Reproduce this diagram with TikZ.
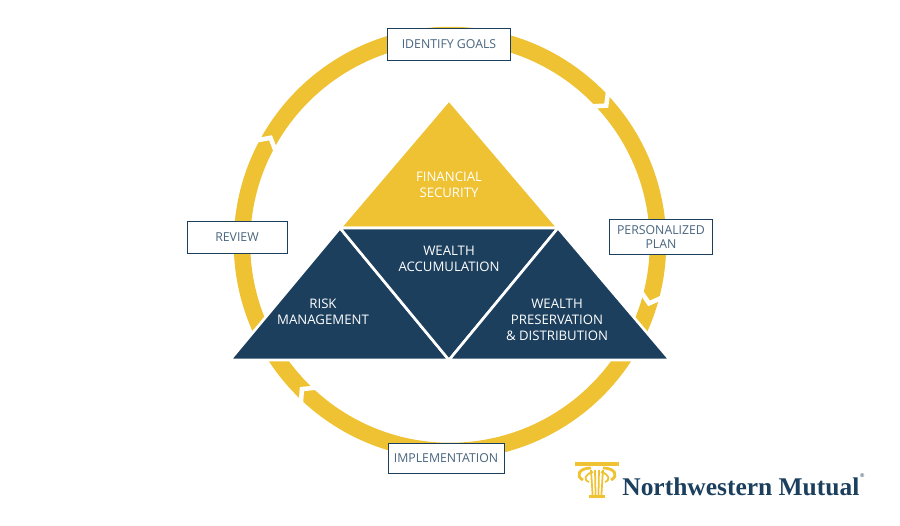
\documentclass[tikz,border=0pt]{standalone}
\usepackage{fontspec}
\setmainfont{Open Sans}
\newfontfamily\logofont{Liberation Serif}
\definecolor{ringyellow}{HTML}{EEC232}
\definecolor{navy}{HTML}{1C3F5E}
\tikzset{
  stagebox/.style={draw=navy, line width=0.5pt, fill=white, minimum width=#1, minimum height=0.64cm,
    inner sep=1pt, font=\fontsize{7}{8.5}\selectfont, text=navy!80, align=center},
  stagebox/.default=2.4cm,
  pyrtext/.style={font=\fontsize{7.5}{9}\selectfont, text=white, align=center},
  chevron/.style={white, line width=0.09cm, line join=miter}
}
\begin{document}
\begin{tikzpicture}[x=0.02cm, y=0.02cm]
    \useasboundingbox (0,0) rectangle (900,525);
    % Ring
    \draw[ringyellow, line width=0.33cm] (450,282) circle (208*0.02cm);
    % Chevrons on the ring
    \foreach \ang in {42.7,-15.5,-134,151} {
        \begin{scope}[shift={(450,282)}, rotate=\ang]
            \draw[chevron] (196,5) -- (208,-5) -- (220,5);
        \end{scope}
    }
    % Pyramid
    \coordinate (apex) at (449,425);
    \coordinate (bl) at (230,165);
    \coordinate (br) at (670,165);
    \coordinate (ml) at (340,297);
    \coordinate (mr) at (558,297);
    \coordinate (mb) at (449,165);
    \filldraw[fill=ringyellow, draw=white, line width=1.5pt] (apex) -- (ml) -- (mr) -- cycle;
    \filldraw[fill=navy, draw=white, line width=1.5pt] (ml) -- (bl) -- (mb) -- cycle;
    \filldraw[fill=navy, draw=white, line width=1.5pt] (ml) -- (mr) -- (mb) -- cycle;
    \filldraw[fill=navy, draw=white, line width=1.5pt] (mr) -- (mb) -- (br) -- cycle;
    \node[pyrtext] (security) at (449,340) {FINANCIAL\\SECURITY};
    \node[pyrtext] (accum) at (449,266) {WEALTH\\ACCUMULATION};
    \node[pyrtext] (risk) at (323,213) {RISK\\MANAGEMENT};
    \node[pyrtext] (preserve) at (557,205) {WEALTH\\PRESERVATION\\\& DISTRIBUTION};
    % Stage boxes
    \node[stagebox=2.46cm] (goals) at (449,481) {IDENTIFY GOALS};
    \node[stagebox=2.06cm, minimum height=0.7cm, font=\fontsize{7}{7.5}\selectfont] (plan) at (661,288) {PERSONALIZED\\PLAN};
    \node[stagebox=2cm] (review) at (237,288) {REVIEW};
    \node[stagebox=2.32cm, minimum height=0.6cm] (impl) at (446,67) {IMPLEMENTATION};
    % Logo
    \begin{scope}[shift={(597,45)}, ringyellow]
        \fill (-22,14) rectangle (22,18);
        \foreach \sx in {-1,1} {
            \draw[line width=1.6pt] (\sx*6,12) .. controls (\sx*18,12) and (\sx*22,4) .. (\sx*14,0);
            \draw[line width=1pt] (\sx*4,8) .. controls (\sx*12,6) and (\sx*14,0) .. (\sx*8,-2);
        }
        \foreach \xx in {-6,-2,2,6} \draw[line width=1pt] (\xx,10) -- (\xx*0.7,-18);
        \fill (-8,-18) rectangle (8,-15);
    \end{scope}
    \node[font=\logofont\bfseries\fontsize{14.5}{16}\selectfont, text=navy, anchor=west, inner sep=0pt] (logo) at (622,38) {Northwestern Mutual};
    \node[font=\fontsize{3}{3}\selectfont, text=navy, anchor=south west, inner sep=0pt] (reg) at (logo.north east) {\textregistered};
\end{tikzpicture}
\end{document}
